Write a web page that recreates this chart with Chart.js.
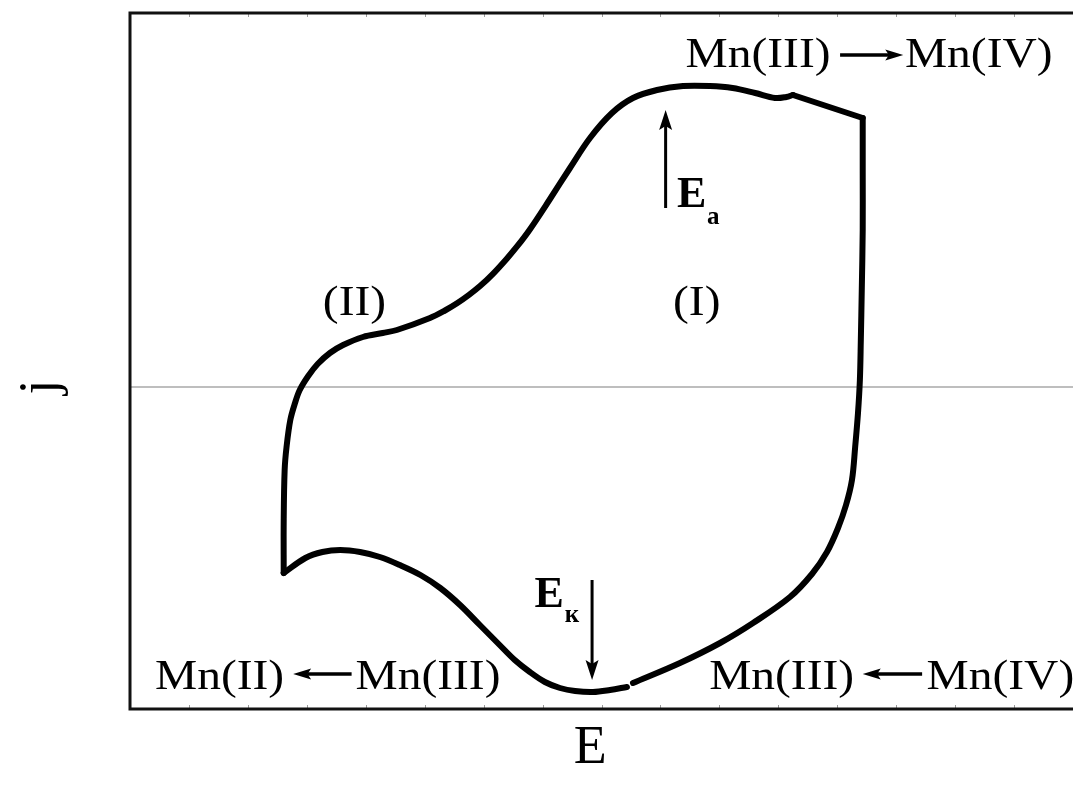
<!DOCTYPE html>
<html>
<head>
<meta charset="utf-8">
<script src="https://cdn.jsdelivr.net/npm/chart.js@4/dist/chart.umd.min.js"></script>
<style>
  html, body { margin: 0; padding: 0; background: #fff; }
  #wrap { width: 1073px; height: 787px; }
</style>
</head>
<body>
<div id="wrap"><canvas id="cvChart" width="1073" height="787"></canvas></div>
<script>
"use strict";

// anodic branch (left corner up to the peak), E / j in arbitrary units
var upperE = [16.3, 16.3, 16.4, 16.6, 17.0, 17.5, 18.0, 18.9, 19.9, 21.2, 22.6, 24.7, 26.8, 28.3, 31.81, 33.40, 34.68, 35.95, 37.12, 38.49, 39.98, 41.15, 42.42, 44.54, 46.66, 48.78, 51.11, 53.34, 55.89, 58.64, 61.5, 63.9, 66.3, 68.4, 69.6, 70.3];
var upperJ = [-18.6, -13.3, -8.3, -6.0, -3.3, -1.6, -0.3, 1.1, 2.3, 3.4, 4.2, 5.0, 5.4, 5.7, 6.90, 7.65, 8.37, 9.21, 10.09, 11.32, 12.86, 14.18, 15.78, 18.8, 21.9, 24.9, 27.4, 28.9, 29.7, 30.1, 30.1, 29.9, 29.4, 28.9, 29.0, 29.2];
// straight piece to the switching potential
var turnE = [70.3, 77.7];
var turnJ = [29.2, 26.9];
// cathodic branch, part 1 (down the right side)
var lowerE1 = [77.7, 77.7, 77.7, 77.6, 77.5, 77.4, 77.2, 76.9, 76.56, 75.93, 75.08, 73.91, 72.32, 69.99, 66.07, 62.57, 58.32, 53.34];
var lowerJ1 = [26.9, 21.7, 15.7, 9.7, 4.7, 0.7, -2.6, -6.0, -9.3, -11.8, -14.1, -16.5, -18.7, -21.0, -23.6, -25.6, -27.6, -29.6];
// cathodic branch, part 2 (across the bottom back to the corner)
var lowerE2 = [52.7, 50.9, 49.1, 47.2, 45.6, 44.0, 42.4, 40.8, 39.2, 37.1, 35.0, 32.9, 30.8, 28.6, 26.5, 24.4, 22.3, 20.4, 18.6, 16.3];
var lowerJ2 = [-30.0, -30.3, -30.5, -30.4, -30.1, -29.5, -28.5, -27.3, -25.8, -23.8, -21.8, -20.1, -18.8, -17.8, -17.0, -16.5, -16.3, -16.5, -17.1, -18.6];

var minE = 0, maxE = 100;
var minJ = -32.2, maxJ = 37.4;

function pts(xs, ys) {
    var out = [];
    for (var i = 0; i < xs.length; i++) out.push({x: xs[i], y: ys[i]});
    return out;
}

function lineSet(xs, ys, tension) {
    return {
        data: pts(xs, ys),
        showLine: true,
        borderColor: "#000",
        borderWidth: 6,
        borderCapStyle: "round",
        borderJoinStyle: "round",
        pointRadius: 0,
        tension: tension,
        fill: false
    };
}

var SERIF = '"Liberation Serif", "Times New Roman", serif';

function stretchText(ctx, txt, x, y, font, align, sx) {
    ctx.save();
    ctx.font = font;
    ctx.textBaseline = "alphabetic";
    var w = ctx.measureText(txt).width * sx;
    var left = align === "center" ? x - w / 2 : x;
    ctx.translate(left, y);
    ctx.scale(sx, 1);
    ctx.textAlign = "left";
    ctx.fillText(txt, 0, 0);
    ctx.restore();
}

function arrow(ctx, x1, y1, x2, y2, lw, head, half) {
    var a = Math.atan2(y2 - y1, x2 - x1);
    var bx = x2 - Math.cos(a) * head, by = y2 - Math.sin(a) * head;
    ctx.save();
    ctx.strokeStyle = "#000";
    ctx.fillStyle = "#000";
    ctx.lineWidth = lw;
    ctx.beginPath();
    ctx.moveTo(x1, y1);
    ctx.lineTo(bx + Math.cos(a) * 4, by + Math.sin(a) * 4);
    ctx.stroke();
    ctx.beginPath();
    ctx.moveTo(x2, y2);
    ctx.lineTo(bx - Math.sin(a) * half, by + Math.cos(a) * half);
    ctx.lineTo(bx + Math.cos(a) * head * 0.2, by + Math.sin(a) * head * 0.2);
    ctx.lineTo(bx + Math.sin(a) * half, by - Math.cos(a) * half);
    ctx.closePath();
    ctx.fill();
    ctx.restore();
}

var framePlugin = {
    id: "frame",
    beforeDraw: function (chart) {
        var ctx = chart.ctx, a = chart.chartArea;
        var xs = chart.scales.x, ys = chart.scales.y;
        ctx.save();
        ctx.fillStyle = "#fff";
        ctx.fillRect(0, 0, chart.width, chart.height);
        // zero current line
        var y0 = ys.getPixelForValue(0);
        ctx.strokeStyle = "#a8a8a8";
        ctx.lineWidth = 1.5;
        ctx.beginPath();
        ctx.moveTo(a.left, y0);
        ctx.lineTo(a.right, y0);
        ctx.stroke();
        // small ticks on top and bottom
        ctx.strokeStyle = "#9a9a9a";
        ctx.lineWidth = 1;
        for (var v = minE + 6.25; v < maxE; v += 6.25) {
            var px = Math.round(xs.getPixelForValue(v)) + 0.5;
            ctx.beginPath();
            ctx.moveTo(px, a.top); ctx.lineTo(px, a.top + 4);
            ctx.moveTo(px, a.bottom); ctx.lineTo(px, a.bottom - 4);
            ctx.stroke();
        }
        // frame: left, top, bottom
        ctx.strokeStyle = "#111";
        ctx.lineWidth = 3;
        ctx.beginPath();
        ctx.moveTo(a.right + 5, a.top);
        ctx.lineTo(a.left, a.top);
        ctx.lineTo(a.left, a.bottom);
        ctx.lineTo(a.right + 5, a.bottom);
        ctx.stroke();
        ctx.restore();
    },
    afterDraw: function (chart) {
        var ctx = chart.ctx, a = chart.chartArea;
        var xs = chart.scales.x, ys = chart.scales.y;
        function X(v) { return xs.getPixelForValue(v); }
        function Y(v) { return ys.getPixelForValue(v); }
        var f = "42px " + SERIF, sx = 1.13;
        ctx.save();
        ctx.fillStyle = "#000";

        // Mn(III) -> Mn(IV) at the top
        stretchText(ctx, "Mn(III)", X(66.6), Y(32.0), f, "center", sx);
        arrow(ctx, X(75.3), Y(33.2), X(82.0), Y(33.2), 3.5, 18, 5.5);
        stretchText(ctx, "Mn(IV)", X(90.0), Y(32.0), f, "center", sx);

        // Mn(II) <- Mn(III) bottom left
        stretchText(ctx, "Mn(II)", X(9.5), Y(-30.2), f, "center", sx);
        arrow(ctx, X(23.5), Y(-28.7), X(17.3), Y(-28.7), 3.5, 18, 5.5);
        stretchText(ctx, "Mn(III)", X(31.6), Y(-30.2), f, "center", sx);

        // Mn(III) <- Mn(IV) bottom right
        stretchText(ctx, "Mn(III)", X(69.1), Y(-30.2), f, "center", sx);
        arrow(ctx, X(84.0), Y(-28.7), X(77.7), Y(-28.7), 3.5, 18, 5.5);
        stretchText(ctx, "Mn(IV)", X(92.3), Y(-30.2), f, "center", sx);

        // region labels
        stretchText(ctx, "(II)", X(23.8), Y(7.2), f, "center", sx);
        stretchText(ctx, "(I)", X(60.1), Y(7.2), f, "center", sx);

        // anodic peak marker
        arrow(ctx, X(56.8), Y(17.9), X(56.8), Y(27.7), 3, 20, 6.5);
        stretchText(ctx, "E", X(58.0), Y(18.0), "bold 44px " + SERIF, "left", 1);
        stretchText(ctx, "a", X(61.2), Y(16.3), "bold 25px " + SERIF, "left", 1);

        // cathodic peak marker
        arrow(ctx, X(49.0), Y(-19.3), X(49.0), Y(-29.3), 3, 20, 6.5);
        stretchText(ctx, "E", X(42.9), Y(-22.0), "bold 44px " + SERIF, "left", 1);
        stretchText(ctx, "к", X(46.1), Y(-23.5), "bold 25px " + SERIF, "left", 1);

        // axis titles
        ctx.font = "54px " + SERIF;
        ctx.textAlign = "center";
        ctx.textBaseline = "middle";
        ctx.fillText("E", X(48.8), a.bottom + 40);
        ctx.save();
        ctx.translate(a.left - 88, Y(0));
        ctx.rotate(-Math.PI / 2);
        ctx.fillText("j", 0, 0);
        ctx.restore();

        ctx.restore();
    }
};

var ctx = document.getElementById("cvChart");
var cvChart = new Chart(ctx, {
    type: "scatter",
    data: {
        datasets: [
            lineSet(upperE, upperJ, 0.35),
            lineSet(turnE, turnJ, 0),
            lineSet(lowerE1, lowerJ1, 0.35),
            lineSet(lowerE2, lowerJ2, 0.35)
        ]
    },
    options: {
        responsive: false,
        animation: false,
        devicePixelRatio: 1,
        layout: { padding: { left: 130, top: 13, right: 0, bottom: 78 } },
        plugins: { legend: { display: false }, tooltip: { enabled: false } },
        scales: {
            x: { type: "linear", min: minE, max: maxE, display: false },
            y: { type: "linear", min: minJ, max: maxJ, display: false }
        }
    },
    plugins: [framePlugin]
});
</script>
</body>
</html>
